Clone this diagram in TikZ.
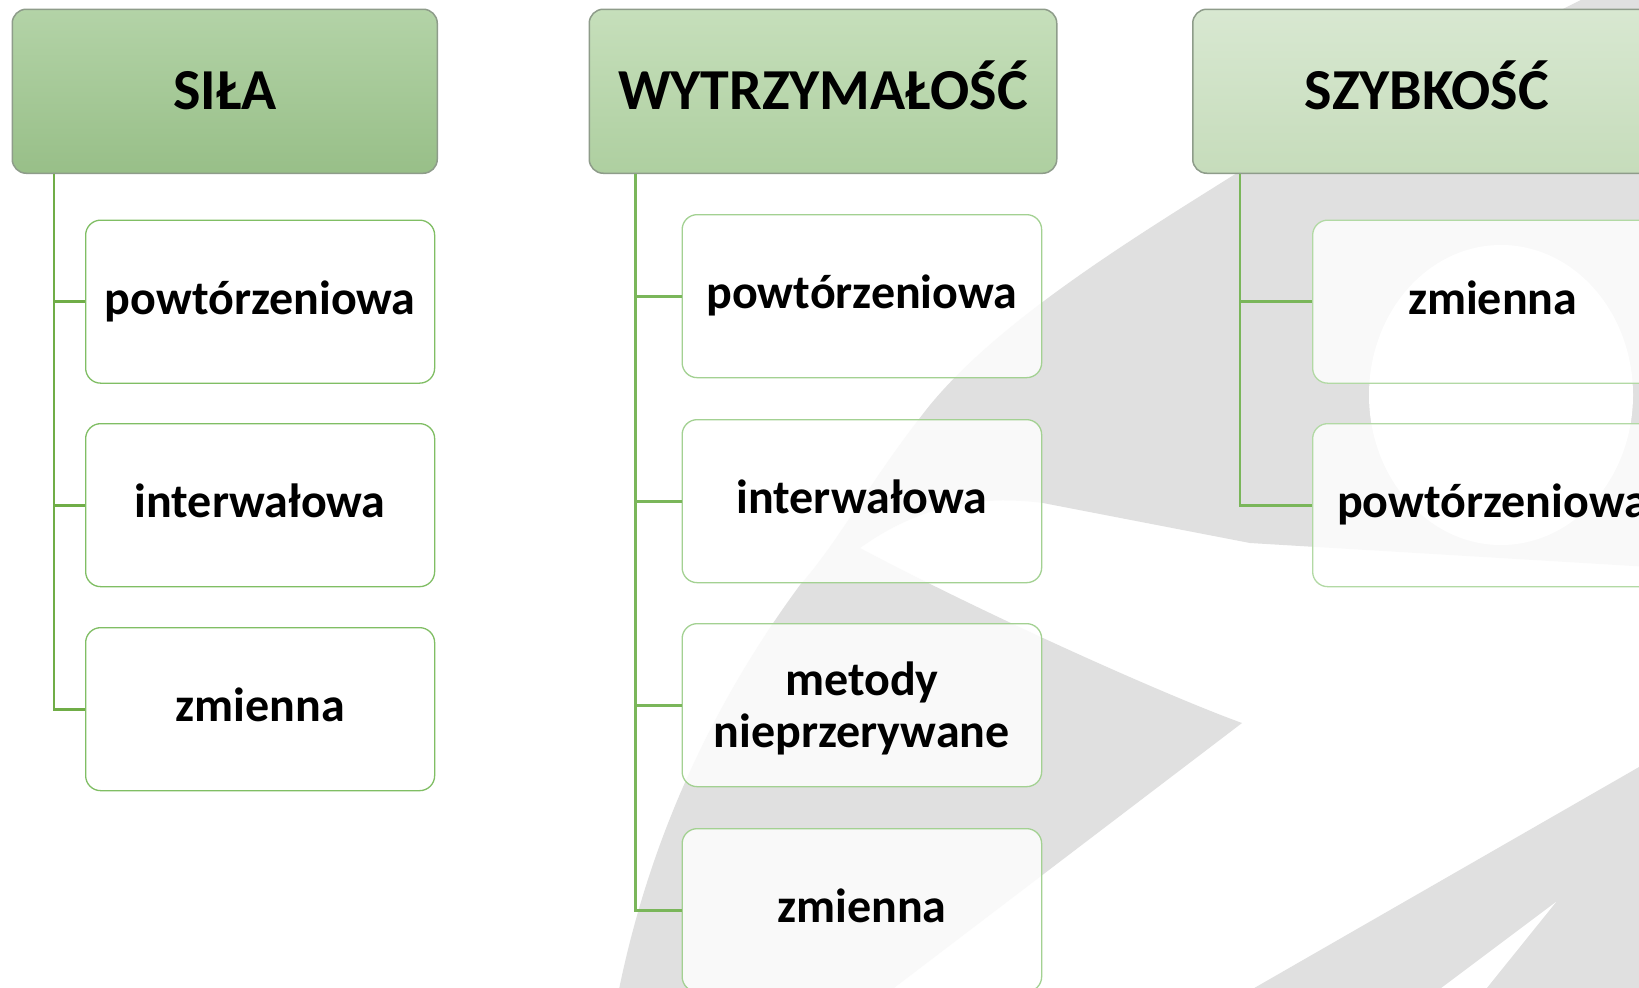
\documentclass[tikz,border=0pt]{standalone}
\usepackage{fontspec}
\setmainfont{Carlito}
\definecolor{wmgrey}{HTML}{E0E0E0}
\definecolor{hdrline}{HTML}{8E9C8A}
\definecolor{hAtop}{HTML}{B3D3A7}
\definecolor{hAbot}{HTML}{98BF88}
\definecolor{hBtop}{HTML}{C6DFBB}
\definecolor{hBbot}{HTML}{AECFA0}
\definecolor{hCtop}{HTML}{D8E8D1}
\definecolor{hCbot}{HTML}{C6DCBB}
\definecolor{bordA}{HTML}{80BE64}
\definecolor{bordB}{HTML}{A3D192}
\definecolor{bordC}{HTML}{B2D9A4}
\definecolor{connA}{HTML}{70AD47}
\definecolor{connB}{HTML}{7AB65A}
\definecolor{connC}{HTML}{7AB65A}
\begin{document}
\begin{tikzpicture}[x=1pt,y=-1pt,
  hdr/.style={draw=hdrline, line width=1.5pt, rounded corners=14pt, anchor=north west,
    inner sep=0pt, minimum height=164pt,
    font=\fontsize{58}{61}\selectfont\bfseries, text height=36pt, text depth=0pt},
  kidbase/.style={draw=#1, line width=1.3pt, rounded corners=15pt, anchor=north west,
    inner sep=0pt, fill=white, fill opacity=0.82, text opacity=1, minimum height=163pt,
    font=\fontsize{48}{52.6}\selectfont\bfseries, align=center},
  kid/.style={kidbase=#1, text height=34pt, text depth=9pt},
  conn/.style={draw=#1, line width=2.8pt},
  wm/.style={fill=wmgrey}]
\useasboundingbox (0,0) rectangle (1639,988);
\clip (0,0) rectangle (1639,988);
\fill[white] (0,0) rectangle (1639,988);

% watermark
\fill[wm] (1700,-60) -- (1237,173)
  .. controls (1130,240) and (1000,320) .. (930,405)
  .. controls (870,480) and (840,540) .. (800,585)
  .. controls (730,680) and (650,820) .. (615,1010)
  -- (865,1010) -- (1242,723)
  .. controls (1170,697) and (990,617) .. (860,548)
  .. controls (920,505) and (980,495) .. (1043,503)
  -- (1250,543) -- (1700,570) -- cycle;
\fill[white] (1501,395) ellipse [x radius=132, y radius=150];
\fill[wm] (1700,732) -- (1216,1010) -- (1700,1010) -- cycle;
\fill[white] (1556,902) -- (1412,1010) -- (1469,1010) -- cycle;

% headers
\node[hdr, top color=hAtop, bottom color=hAbot, minimum width=425pt] (h1) at (11.5,8.5) {SIŁA};
\node[hdr, top color=hBtop, bottom color=hBbot, minimum width=467.5pt] (h2) at (588.5,8.5) {WYTRZYMAŁOŚĆ};
\node[hdr, top color=hCtop, bottom color=hCbot, minimum width=468pt] (h3) at (1192,8.5) {SZYBKOŚĆ};

% column 1
\node[kid=bordA, minimum width=349pt] (a1) at (85,219.5) {powtórzeniowa};
\node[kid=bordA, minimum width=349pt] (a2) at (85,423) {interwałowa};
\node[kid=bordA, minimum width=349pt] (a3) at (85,627) {zmienna};

% column 2
\node[kid=bordB, minimum width=359.5pt] (b1) at (681.5,214) {powtórzeniowa};
\node[kid=bordB, minimum width=359.5pt] (b2) at (681.5,419) {interwałowa};
\node[kidbase=bordB, minimum width=359.5pt] (b3) at (681.5,623) {\rule{0pt}{40pt}metody\\nieprzerywane};
\node[kid=bordB, minimum width=359.5pt] (b4) at (681.5,828) {zmienna};

% column 3
\node[kid=bordC, minimum width=360pt] (c1) at (1312,219.5) {zmienna};
\node[kid=bordC, minimum width=360pt] (c2) at (1312,423) {powtórzeniowa};

% connectors
\coordinate (v1) at (54,0);
\coordinate (v2) at (635.5,0);
\coordinate (v3) at (1240,0);
\draw[conn=connA] (v1 |- h1.south) |- (a3.west);
\draw[conn=connA] (v1 |- a1.west) -- (a1.west);
\draw[conn=connA] (v1 |- a2.west) -- (a2.west);
\draw[conn=connB] (v2 |- h2.south) |- (b4.west);
\draw[conn=connB] (v2 |- b1.west) -- (b1.west);
\draw[conn=connB] (v2 |- b2.west) -- (b2.west);
\draw[conn=connB] (v2 |- b3.west) -- (b3.west);
\draw[conn=connC] (v3 |- h3.south) |- (c2.west);
\draw[conn=connC] (v3 |- c1.west) -- (c1.west);
\end{tikzpicture}
\end{document}
